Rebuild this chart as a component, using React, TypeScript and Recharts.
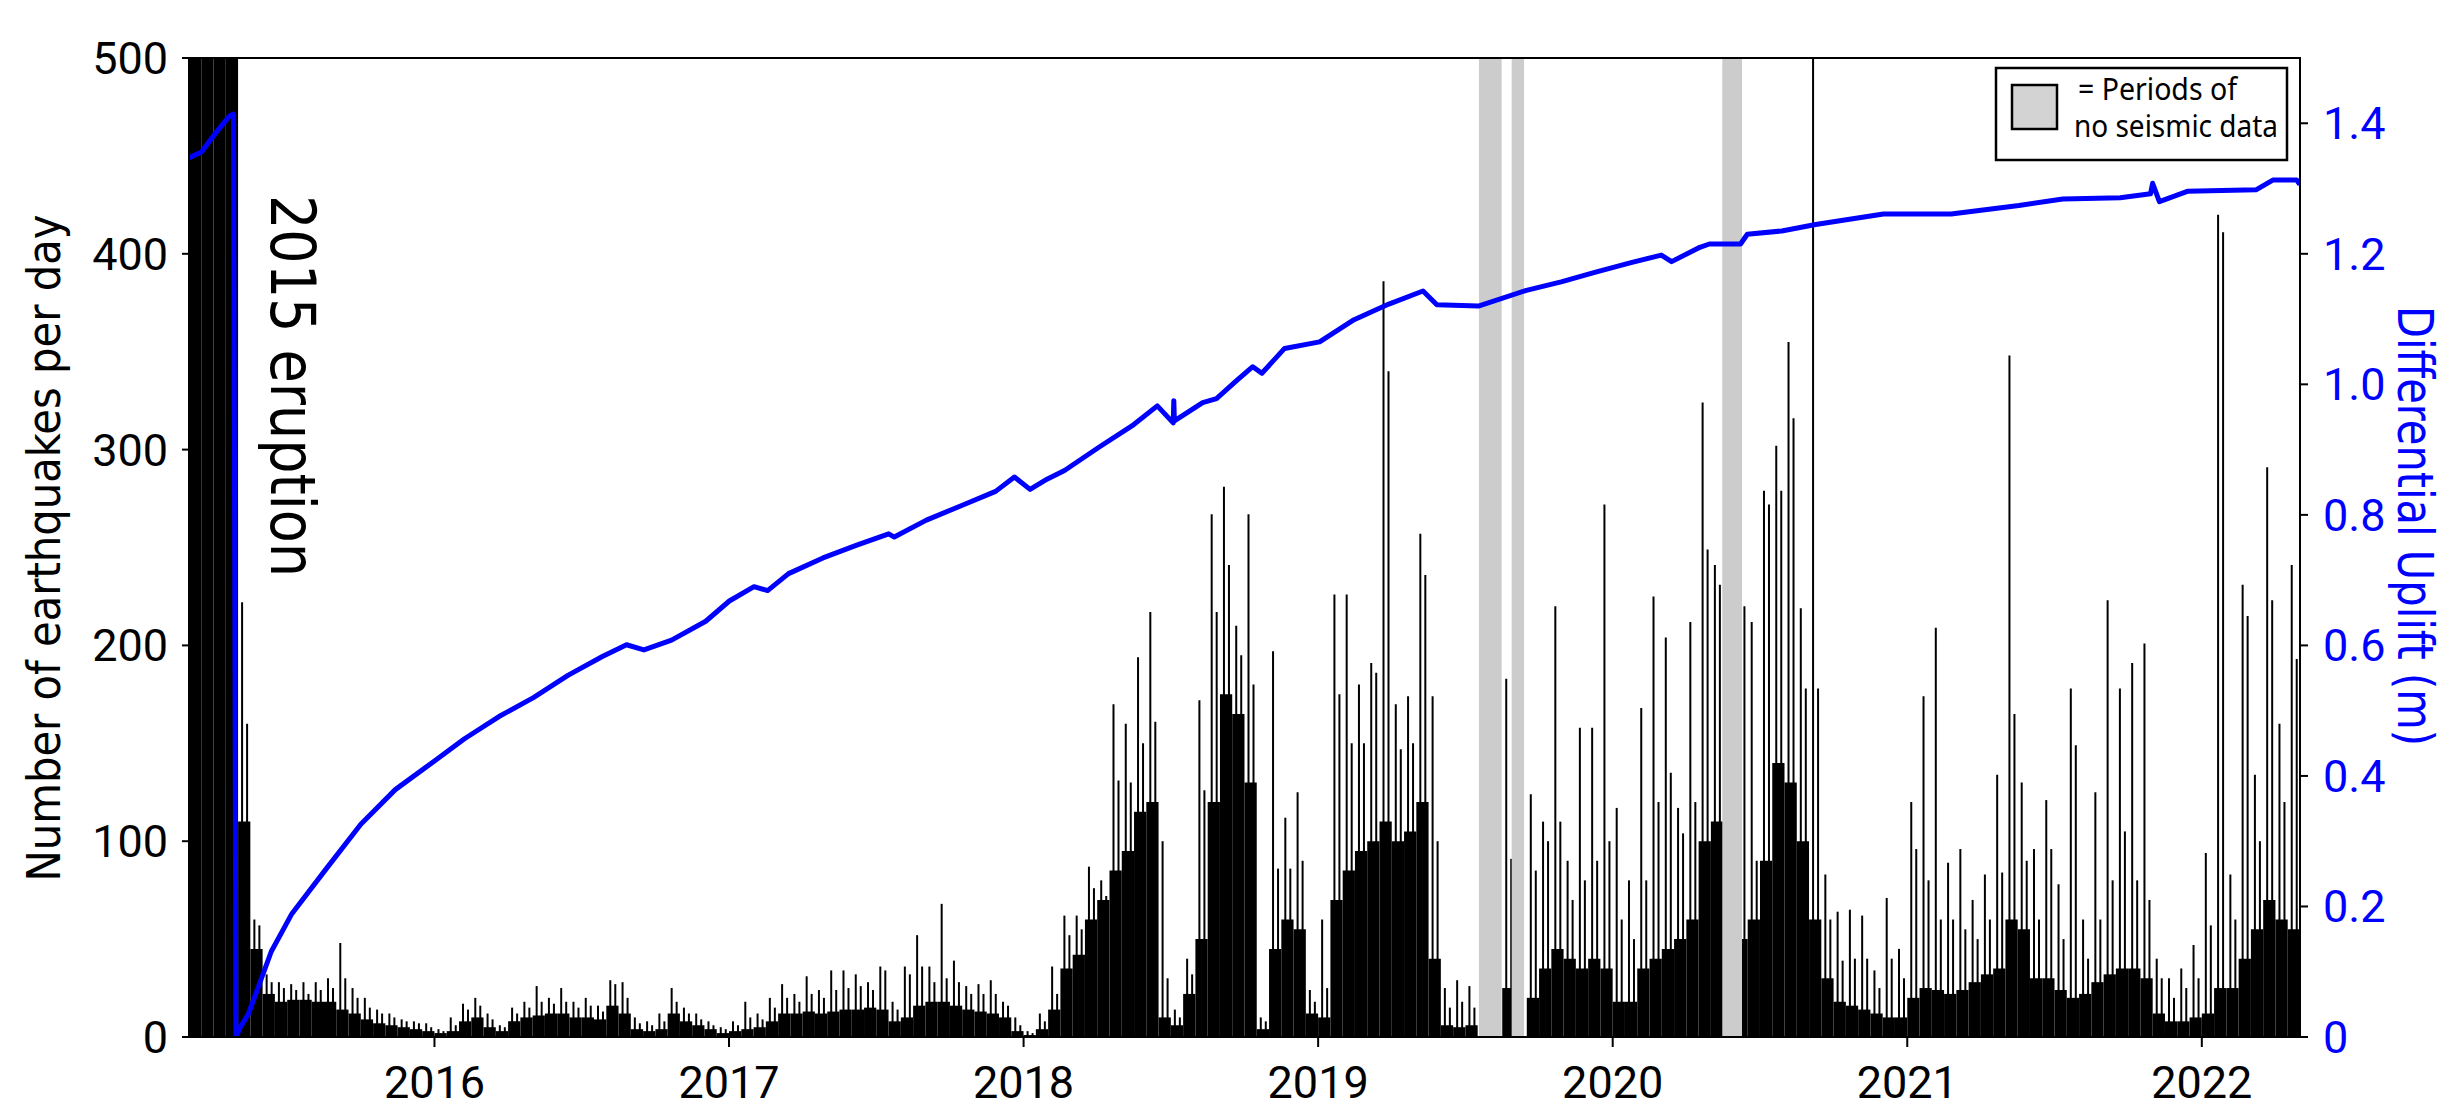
import React from "react";
import { ComposedChart, Bar, Line, XAxis, YAxis, ReferenceArea } from "recharts";

// earthquakes per day, read off in half-month bins (first bin = 1-15 Mar 2015)
// level = height of the dense daily bars, spikeA / spikeB = two tallest days in the bin
const level2015 = [600, 600, 600, 600, 110, 45, 22, 18, 19, 19, 18, 18, 14, 12, 9, 7, 6, 5, 4, 3];
const spikeA2015 = [600, 600, 600, 600, 222, 60, 32, 28, 27, 28, 28, 30, 48, 25, 20, 14, 12, 9, 8, 7];
const spikeB2015 = [600, 600, 600, 600, 160, 57, 28, 25, 24, 22, 24, 25, 30, 20, 15, 12, 10, 8, 7, 5];

const level2016 = [2, 3, 8, 10, 5, 3, 8, 10, 11, 12, 12, 10, 10, 9, 16, 12, 4, 3, 4, 12, 8, 6, 4, 2];
const spikeA2016 = [4, 10, 17, 20, 12, 6, 15, 18, 26, 20, 25, 18, 20, 16, 29, 28, 10, 8, 12, 25, 15, 12, 8, 5];
const spikeB2016 = [3, 6, 14, 16, 9, 5, 12, 15, 18, 17, 18, 15, 16, 13, 27, 20, 7, 6, 8, 18, 12, 9, 6, 4];

const level2017 = [3, 4, 5, 8, 12, 12, 13, 12, 13, 14, 14, 15, 14, 8, 10, 16, 18, 18, 16, 14, 13, 12, 10, 3];
const spikeA2017 = [8, 18, 12, 20, 27, 22, 31, 24, 34, 34, 32, 28, 36, 18, 36, 52, 36, 68, 39, 26, 27, 29, 18, 10];
const spikeB2017 = [6, 10, 9, 15, 20, 18, 22, 20, 24, 25, 26, 24, 34, 14, 32, 36, 28, 30, 28, 22, 22, 22, 16, 6];

const level2018 = [1, 4, 14, 35, 42, 60, 70, 85, 95, 115, 120, 10, 6, 22, 50, 120, 175, 165, 130, 4, 45, 60, 55, 12];
const spikeA2018 = [3, 12, 36, 62, 62, 87, 80, 170, 160, 194, 217, 100, 14, 40, 172, 267, 281, 210, 267, 10, 197, 112, 125, 24];
const spikeB2018 = [2, 8, 22, 52, 55, 76, 72, 131, 130, 150, 161, 30, 10, 32, 126, 217, 241, 195, 180, 8, 86, 86, 90, 18];

const level2019 = [10, 70, 85, 95, 100, 110, 100, 105, 120, 40, 6, 5, 6, 0, 0, 25, 0, 20, 35, 45, 40, 35, 40, 35];
const spikeA2019 = [60, 226, 226, 180, 191, 386, 170, 174, 257, 174, 25, 29, 26, 0, 0, 183, 0, 124, 110, 220, 90, 158, 158, 272];
const spikeB2019 = [25, 175, 150, 150, 186, 340, 147, 150, 236, 100, 15, 18, 15, 0, 0, 91, 0, 85, 100, 110, 70, 80, 90, 100];

const level2020 = [18, 18, 35, 40, 45, 50, 60, 100, 110, 0, 50, 60, 90, 140, 130, 100, 60, 30, 18, 16, 14, 12, 10, 10];
const spikeA2020 = [117, 80, 168, 225, 204, 117, 212, 324, 241, 0, 142, 212, 279, 302, 355, 219, 600, 83, 64, 65, 62, 34, 71, 45];
const spikeB2020 = [60, 50, 80, 120, 135, 104, 120, 249, 231, 0, 220, 90, 272, 279, 316, 178, 178, 60, 39, 40, 40, 25, 40, 30];

const level2021 = [20, 25, 24, 22, 24, 28, 32, 35, 60, 55, 30, 30, 24, 20, 22, 28, 32, 35, 35, 30, 12, 8, 8, 10];
const spikeA2021 = [120, 174, 209, 89, 96, 70, 83, 134, 348, 130, 96, 121, 78, 178, 60, 125, 223, 178, 191, 201, 40, 30, 35, 47];
const spikeB2021 = [96, 80, 60, 60, 55, 50, 60, 84, 165, 90, 60, 96, 50, 149, 40, 60, 80, 105, 80, 70, 30, 20, 25, 30];

const level2022 = [12, 25, 25, 40, 55, 70, 60, 55];
const spikeA2022 = [94, 420, 83, 231, 134, 291, 160, 241];
const spikeB2022 = [57, 411, 60, 215, 100, 223, 120, 193];

// differential uplift (m)
const upliftYears = [
  2015.166, 2015.209, 2015.262, 2015.304, 2015.318, 2015.326, 2015.341, 2015.368, 2015.399, 2015.446,
  2015.516, 2015.633, 2015.75, 2015.867, 2016.0, 2016.102, 2016.219, 2016.336, 2016.453, 2016.57,
  2016.652, 2016.711, 2016.805, 2016.921, 2017.001, 2017.085, 2017.131, 2017.202, 2017.319, 2017.436,
  2017.542, 2017.561, 2017.67, 2017.788, 2017.905, 2017.969, 2018.022, 2018.081, 2018.139, 2018.257,
  2018.373, 2018.454, 2018.508, 2018.51, 2018.512, 2018.608, 2018.655, 2018.724, 2018.778, 2018.809,
  2018.886, 2019.005, 2019.122, 2019.24, 2019.356, 2019.403, 2019.544, 2019.707, 2019.825, 2019.942,
  2020.059, 2020.165, 2020.2, 2020.296, 2020.328, 2020.434, 2020.457, 2020.574, 2020.689, 2020.919,
  2021.149, 2021.379, 2021.528, 2021.723, 2021.826, 2021.833, 2021.856, 2021.953, 2022.184, 2022.241,
  2022.322, 2022.333,
];
const upliftMetres = [
  1.347, 1.356, 1.388, 1.411, 1.414, 0.0, 0.015, 0.035, 0.073, 0.131,
  0.189, 0.258, 0.326, 0.379, 0.423, 0.457, 0.491, 0.52, 0.554, 0.583,
  0.601, 0.593, 0.608, 0.637, 0.668, 0.69, 0.684, 0.71, 0.734, 0.754,
  0.771, 0.766, 0.792, 0.814, 0.836, 0.858, 0.839, 0.855, 0.868, 0.904,
  0.938, 0.967, 0.941, 0.975, 0.944, 0.972, 0.978, 1.006, 1.027, 1.017,
  1.055, 1.065, 1.099, 1.123, 1.143, 1.122, 1.12, 1.144, 1.157, 1.172,
  1.186, 1.198, 1.188, 1.21, 1.215, 1.215, 1.23, 1.235, 1.245, 1.261,
  1.261, 1.274, 1.284, 1.286, 1.292, 1.308, 1.28, 1.296, 1.298, 1.313,
  1.313, 1.306,
];

// periods of no seismic data
const gapStart = [2019.546, 2019.657, 2020.372];
const gapEnd = [2019.623, 2019.699, 2020.439];

const yearTicks = [2016, 2017, 2018, 2019, 2020, 2021, 2022];
const countTicks = [0, 100, 200, 300, 400, 500];
const upliftTicks = [0, 0.2, 0.4, 0.6, 0.8, 1.0, 1.2, 1.4];

const T0 = 2015 + 2 / 12;
const T1 = 2022 + 4 / 12;

const blocks = [
  { year: 2015, first: 4, level: level2015, a: spikeA2015, b: spikeB2015 },
  { year: 2016, first: 0, level: level2016, a: spikeA2016, b: spikeB2016 },
  { year: 2017, first: 0, level: level2017, a: spikeA2017, b: spikeB2017 },
  { year: 2018, first: 0, level: level2018, a: spikeA2018, b: spikeB2018 },
  { year: 2019, first: 0, level: level2019, a: spikeA2019, b: spikeB2019 },
  { year: 2020, first: 0, level: level2020, a: spikeA2020, b: spikeB2020 },
  { year: 2021, first: 0, level: level2021, a: spikeA2021, b: spikeB2021 },
  { year: 2022, first: 0, level: level2022, a: spikeA2022, b: spikeB2022 },
];

const quakeBins = blocks.flatMap((blk) =>
  blk.level.map((v, i) => ({
    t: blk.year + (blk.first + i + 0.5) / 24,
    level: v,
    spikeA: blk.a[i],
    spikeB: blk.b[i],
  }))
);

const uplift = upliftYears.map((t, i) => ({ t, u: upliftMetres[i] }));

const W = 2432;
const H = 1106;
const tickFont = "Roboto, 'Noto Sans', sans-serif";
const titleFont = "'Liberation Sans Narrow', 'DejaVu Sans Condensed', 'Liberation Sans', sans-serif";
const legendFont = "'Noto Sans', 'Open Sans', sans-serif";

// year labels under the x axis
const YearTick = (props: any) => {
  const { x, y, payload } = props;
  return (
    <text x={x} y={y + 31} textAnchor="middle" fill="#000" fontSize={45} fontFamily={tickFont}>
      {payload.value}
    </text>
  );
};

export default function App() {
  return (
    <div style={{ position: "absolute", left: 8, top: 8, width: W, height: H }}>
      <ComposedChart
        width={W}
        height={H}
        data={quakeBins}
        margin={{ top: 50, right: 20, bottom: 17, left: 61 }}
        barGap={3}
      >
        <XAxis
          xAxisId="a"
          type="number"
          dataKey="t"
          domain={[T0, T1]}
          allowDataOverflow
          ticks={yearTicks}
          interval={0}
          axisLine={false}
          tickLine={{ stroke: "#000", strokeWidth: 2 }}
          tickSize={10}
          tickMargin={20}
          height={60}
          tick={<YearTick />}
        />
        <XAxis xAxisId="s" type="number" dataKey="t" domain={[T0, T1]} allowDataOverflow hide height={0} />
        <XAxis xAxisId="u" type="number" dataKey="t" domain={[T0, T1]} allowDataOverflow hide height={0} />
        <YAxis
          yAxisId="n"
          domain={[0, 500]}
          allowDataOverflow
          ticks={countTicks}
          interval={0}
          width={120}
          axisLine={false}
          tickLine={{ stroke: "#000", strokeWidth: 2 }}
          tickSize={7}
          tickMargin={14}
          tick={{ fill: "#000", fontSize: 45, fontFamily: tickFont }}
        />
        <YAxis
          yAxisId="m"
          orientation="right"
          domain={[0, 1.5]}
          allowDataOverflow
          ticks={upliftTicks}
          interval={0}
          width={120}
          axisLine={false}
          tickLine={{ stroke: "#000", strokeWidth: 2 }}
          tickSize={8}
          tickMargin={15}
          tickFormatter={(v: number) => (v === 0 ? "0" : v.toFixed(1))}
          tick={{ fill: "#0000ff", fontSize: 45, fontFamily: tickFont }}
        />
        <Bar xAxisId="a" yAxisId="n" dataKey="level" fill="#000" barSize={12.25} isAnimationActive={false} />
        <Bar xAxisId="s" yAxisId="n" dataKey="spikeA" fill="#000" barSize={2} isAnimationActive={false} />
        <Bar xAxisId="s" yAxisId="n" dataKey="spikeB" fill="#000" barSize={2} isAnimationActive={false} />
        {gapStart.map((s, i) => (
          <ReferenceArea
            key={i}
            xAxisId="a"
            yAxisId="n"
            x1={s}
            x2={gapEnd[i]}
            fill="#cccccc"
            fillOpacity={1}
            stroke="none"
            zIndex={350}
          />
        ))}
        <Line
          xAxisId="u"
          yAxisId="m"
          data={uplift}
          dataKey="u"
          type="linear"
          stroke="#0000ff"
          strokeWidth={5}
          strokeLinejoin="round"
          dot={false}
          isAnimationActive={false}
        />
        <ReferenceArea
          xAxisId="a"
          yAxisId="n"
          x1={T0}
          x2={T1}
          y1={0}
          y2={500}
          fill="none"
          stroke="#000"
          strokeWidth={2}
          zIndex={700}
        />
      </ComposedChart>
      <svg
        width={W + 8}
        height={H}
        style={{ position: "absolute", left: 0, top: 0, pointerEvents: "none" }}
      >
        <text
          x={52}
          y={540}
          transform="rotate(-90 52 540)"
          textAnchor="middle"
          fontSize={47}
          fontFamily={titleFont}
          textLength={667}
          lengthAdjust="spacingAndGlyphs"
        >
          Number of earthquakes per day
        </text>
        <text
          x={263}
          y={378}
          transform="rotate(90 263 378)"
          textAnchor="middle"
          fontSize={62}
          fontFamily={titleFont}
          textLength={382}
          lengthAdjust="spacingAndGlyphs"
        >
          2015 eruption
        </text>
        <text
          x={2390}
          y={518}
          transform="rotate(90 2390 518)"
          textAnchor="middle"
          fontSize={49}
          fill="#0000ff"
          fontFamily={titleFont}
          textLength={440}
          lengthAdjust="spacingAndGlyphs"
        >
          Differential Uplift (m)
        </text>
        <rect x={1988} y={60} width={291} height={92} fill="#fff" stroke="#000" strokeWidth={2.5} />
        <rect x={2004} y={77} width={45} height={44} fill="#d3d3d3" stroke="#000" strokeWidth={2.5} />
        <text
          x={2070}
          y={92}
          fontSize={30}
          fontFamily={legendFont}
          textLength={159}
          lengthAdjust="spacingAndGlyphs"
        >
          = Periods of
        </text>
        <text
          x={2066}
          y={129}
          fontSize={30}
          fontFamily={legendFont}
          textLength={204}
          lengthAdjust="spacingAndGlyphs"
        >
          no seismic data
        </text>
      </svg>
    </div>
  );
}
